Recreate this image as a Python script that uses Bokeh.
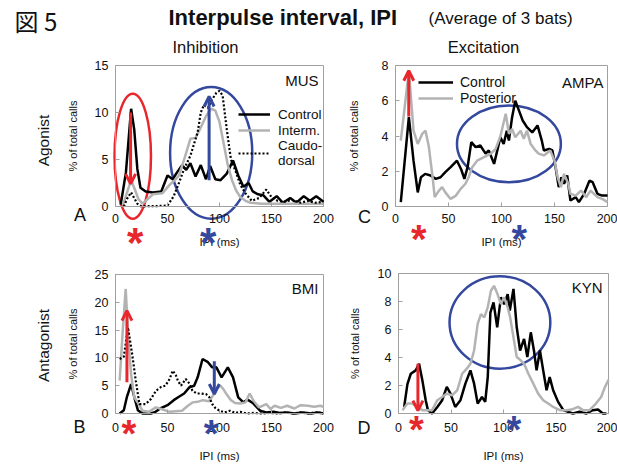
from bokeh.plotting import figure
from bokeh.models import Range1d, FixedTicker, Label, Arrow, OpenHead, Legend, LegendItem
from bokeh.layouts import column, row
from bokeh.embed import file_html
from bokeh.resources import INLINE

# ---------------- data ----------------
X_TICKS = [0, 50, 100, 150, 200]
A_YTICKS = [0, 5, 10, 15]
C_YTICKS = [0, 2, 4, 6, 8]
B_YTICKS = [0, 5, 10, 15, 20, 25]
D_YTICKS = [0, 2, 4, 6, 8, 10]

# Panel A (MUS)
A_CTRL_X = [5, 10, 15, 18, 21, 24, 29, 36, 44, 50, 55, 59, 64, 68, 72, 77, 82, 87, 91, 96, 101, 107, 113, 118, 123, 128, 132, 137, 142, 148, 155, 161, 168, 174, 181, 187, 193, 200]
A_CTRL_Y = [0.2, 3.6, 10.4, 8.2, 4.0, 2.0, 1.6, 1.5, 1.6, 3.3, 2.9, 3.6, 4.4, 3.9, 4.6, 3.2, 4.4, 2.9, 4.3, 2.9, 2.8, 3.5, 4.9, 3.3, 2.1, 2.5, 1.6, 1.3, 1.2, 0.5, 1.1, 0.4, 0.9, 0.4, 1.1, 0.6, 1.1, 0.5]
A_INT_X = [7, 12, 15, 18, 22, 26, 31, 36, 45, 52, 57, 61, 66, 72, 77, 82, 87, 92, 96, 100, 104, 108, 112, 116, 120, 125, 130, 140, 150, 160, 170, 180, 190, 200]
A_INT_Y = [0.1, 1.8, 2.8, 2.0, 0.8, 0.3, 0.8, 1.3, 1.4, 2.3, 2.8, 3.3, 5.0, 7.2, 7.3, 8.4, 9.6, 10.4, 10.2, 9.0, 6.7, 4.4, 2.8, 1.7, 1.0, 0.6, 0.4, 0.3, 0.3, 0.3, 0.3, 0.3, 0.3, 0.3]
A_CD_X = [8, 11, 15, 18, 21, 25, 30, 40, 50, 56, 61, 66, 72, 79, 82, 85, 89, 93, 97, 100, 103, 107, 111, 116, 120, 125, 131, 138, 145, 150, 156, 162, 170, 178, 185, 192, 200]
A_CD_Y = [0.0, 0.8, 1.5, 0.9, 0.3, 0.0, 0.05, 0.05, 0.1, 1.1, 2.5, 4.0, 5.4, 7.9, 10.0, 10.8, 10.5, 11.4, 12.1, 12.3, 11.8, 8.2, 5.0, 3.6, 2.3, 1.4, 0.6, 0.9, 1.8, 1.0, 0.6, 0.5, 0.7, 0.4, 0.6, 0.4, 0.5]

# Panel C (AMPA)
C_CTRL_X = [5, 12.6, 17, 21, 24, 28, 33, 38, 42.5, 47, 52, 58, 62, 65, 68, 71.5, 75.6, 80, 85, 88, 93, 99, 102, 105, 107, 110, 113, 116.5, 120, 124, 129, 134, 138, 140, 145, 148, 151, 154, 156.5, 159, 162, 165, 170, 173, 178, 183, 186, 190.5, 195, 200]
C_CTRL_Y = [0.25, 5.07, 2.6, 0.8, 1.66, 1.85, 1.76, 1.57, 1.66, 1.95, 2.23, 2.6, 2.1, 1.57, 2.23, 3.65, 3.37, 3.46, 3.0, 3.18, 2.42, 3.93, 3.55, 4.3, 3.74, 5.07, 6.0, 5.44, 4.88, 4.5, 4.2, 4.6, 3.74, 3.18, 3.27, 3.18, 2.23, 1.1, 1.66, 1.29, 1.76, 0.34, 0.53, 0.25, 0.72, 1.47, 1.38, 0.72, 0.62, 0.62]
C_POST_X = [5, 12.6, 17, 21, 25, 28.3, 31.5, 35, 37, 41, 44, 47, 52, 57, 61.5, 66, 69, 72.4, 77, 83.5, 90, 94.5, 99, 104, 107, 110, 113, 118, 121, 124, 127.5, 132, 135, 140, 146, 150, 153, 156, 159, 163, 165, 170, 175, 180, 184, 190.5, 195, 200]
C_POST_Y = [3.74, 7.7, 4.3, 3.55, 4.1, 4.3, 3.37, 1.66, 0.53, 0.9, 1.1, 0.8, 0.43, 0.62, 1.0, 1.29, 1.66, 2.23, 2.6, 2.8, 3.0, 3.27, 4.0, 5.26, 4.12, 4.4, 3.93, 4.3, 3.84, 4.3, 3.55, 3.18, 3.0, 2.9, 3.18, 2.6, 1.66, 1.1, 1.85, 1.29, 0.72, 0.62, 0.9, 0.53, 0.9, 0.53, 0.43, 0.25]

# Panel B (BMI)
B_CTRL_X = [4, 8, 11, 15, 18, 21.5, 26, 34, 38.5, 43, 50, 56, 61, 66, 71, 75.6, 79, 83.7, 88.5, 93, 97, 102, 108, 113, 118, 123, 127, 132, 139, 145, 152, 158, 165, 172, 180, 188, 195, 200]
B_CTRL_Y = [0, 0.6, 3.0, 5.3, 3.0, 0.6, 0, 0, 0.3, 0.9, 1.5, 2.4, 3.0, 3.6, 4.7, 5.0, 6.5, 9.8, 9.3, 8.3, 8.3, 6.5, 8.3, 6.5, 2.9, 2.0, 2.5, 1.9, 0.5, 0.2, 0.3, 0.1, 0.2, 0.0, 0.2, 0.0, 0.2, 0.0]
B_INT_X = [4, 7, 9.8, 12.5, 15, 18, 22, 26, 32, 38.8, 44, 52, 58, 64, 69, 74, 79, 84, 90, 94, 98, 101, 104, 107, 111, 115, 120, 125, 129, 133, 138, 145, 149, 153, 159, 165, 172, 178, 185, 191, 197, 200]
B_INT_Y = [5.9, 15.0, 22.4, 13.0, 7.0, 2.9, 1.8, 0.5, 0.3, 1.1, 0.8, 0.3, 0.4, 0.5, 1.3, 2.0, 2.1, 2.4, 2.2, 3.3, 4.6, 5.0, 4.3, 3.4, 2.4, 1.9, 1.8, 2.0, 3.6, 2.2, 1.1, 1.7, 0.8, 1.4, 1.0, 1.4, 0.9, 1.5, 1.4, 1.2, 1.4, 1.2]
B_CD_X = [4, 8, 12, 16, 19.5, 23, 29, 34, 39, 44, 48, 52, 55, 58, 60, 63, 67.5, 71, 74, 78, 82, 87, 90, 93, 96, 100, 105, 110, 115, 120, 126, 133, 140, 148, 156, 163, 170, 178, 185, 192, 200]
B_CD_Y = [9.8, 10.2, 15.5, 10.7, 5.9, 1.7, 1.7, 2.6, 4.1, 4.8, 5.0, 6.2, 7.7, 6.9, 5.9, 5.0, 6.2, 5.4, 4.1, 3.6, 3.6, 3.5, 3.0, 1.7, 1.0, 0.5, 0.2, 0.5, 0.1, 0.3, 0.0, 0.1, 0.0, 0.1, 0.0, 0.2, 0.0, 0.2, 0.0, 0.2, 0.0]

# Panel D (KYN)
D_CTRL_X = [5.4, 8.5, 11.7, 16.4, 19.6, 22.7, 25.9, 28, 32, 37, 41.6, 46, 49.5, 54, 59, 63.7, 68.5, 72, 75.4, 79.5, 82.6, 85, 87.5, 90.5, 94, 97.5, 100.6, 104, 106, 109.5, 112.6, 115.8, 119.6, 122.7, 126, 129, 131.5, 134.7, 137.8, 141, 144, 147.3, 152, 157, 161.5, 166, 172.5, 179, 185, 190, 194.6, 198]
D_CTRL_Y = [0.47, 2.1, 2.84, 3.08, 3.55, 2.37, 0.95, 0.24, 0, 0.47, 0.95, 1.9, 1.42, 0.47, 0.95, 2.13, 3.08, 2.13, 0.71, 1.18, 0.83, 2.6, 7.2, 7.94, 6.16, 8.3, 7.8, 8.53, 7.35, 8.9, 6.16, 4.5, 5.33, 4.03, 5.8, 4.5, 3.08, 4.5, 3.08, 1.66, 2.6, 1.66, 0.83, 0.24, 0.12, 0, 0.12, 0, 0.24, 0.28, 0, 0]
D_POST_X = [3.8, 8.5, 13, 18, 22.7, 27.4, 32, 37, 41.6, 46, 51, 56, 60.6, 65, 68.5, 72, 75.4, 78.5, 81.7, 85, 88, 91, 94.3, 97.5, 100.6, 104, 106.3, 109.5, 112.6, 116.4, 119.6, 123.7, 128.4, 133, 137.8, 142.6, 147.3, 153.6, 160, 164.7, 171, 175.7, 182, 188, 193, 196, 200]
D_POST_Y = [0.24, 0.71, 0.71, 0.47, 0.24, 0.24, 0.24, 0.95, 1.18, 1.42, 1.3, 1.66, 2.84, 3.2, 3.55, 4.5, 6.4, 7.1, 6.87, 7.58, 8.77, 9.12, 8.53, 7.82, 8.3, 7.58, 6.87, 5.45, 4.03, 3.8, 3.55, 2.84, 2.13, 1.42, 0.95, 0.71, 0.47, 0.24, 0.24, 0.28, 0.47, 0.24, 0.24, 0.71, 1.18, 1.78, 2.4]

# annotations (data units): ellipses (cx, cy, w, h), arrows (x, y_start, y_end), asterisk x positions
A_ELLIPSES = [(16.6, 5.35, 35, 13.3, "red"), (92, 5.7, 79, 14.0, "blue")]
C_ELLIPSES = [(107, 3.55, 98, 4.35, "blue")]
D_ELLIPSES = [(96.6, 6.5, 96, 6.6, "blue")]
A_ARROWS = [(14.5, 10.0, 2.4, "red"), (90, 2.8, 11.7, "blue")]
C_ARROWS = [(12.5, 5.1, 7.7, "red")]
B_ARROWS = [(11, 5.6, 18.5, "red"), (95, 9.4, 3.5, "blue")]
D_ARROWS = [(18.5, 3.55, 0.2, "red")]
A_STARS = [(19, "red"), (89, "blue")]
C_STARS = [(22, "red"), (116.7, "blue")]
B_STARS = [(12.8, "red"), (92, "blue")]
D_STARS = [(17, "red"), (110, "blue")]

FONT = "Liberation Sans"
RED = "#e8272c"
BLUE = "#34489e"
GRAY = "#b3b3b3"
AXC = "#a0a0a0"
TXT = "#111111"
COL = {"red": RED, "blue": BLUE}


class Panel:
    """A figure whose frame fills its canvas; the plot area (0..200, 0..ymax)
    sits at the given page-pixel box, axes are pinned at 0."""

    def __init__(self, cx0, cy0, w, h, px0, px1, py0, py1, ymax, yticks,
                 xtick_so, xlab_so, ylab_so):
        self.cx0, self.cy1 = cx0, cy0 + h
        sx = (px1 - px0) / 200.0
        sy = (py0 - py1) / float(ymax)
        xr = Range1d(-(px0 - cx0) / sx, 200 + (cx0 + w - px1) / sx)
        yr = Range1d(-(cy0 + h - py0) / sy, ymax + (py1 - cy0) / sy)
        p = figure(width=w, height=h, min_border=0, x_range=xr, y_range=yr,
                   toolbar_location=None, output_backend="svg")
        p.grid.visible = False
        p.outline_line_color = None
        p.background_fill_color = "white"
        p.border_fill_color = "white"
        # plot-area box (top/right edges)
        p.quad(left=[0], right=[200], bottom=[0], top=[ymax], fill_color=None,
               line_color=AXC, line_width=1)
        p.xaxis.ticker = FixedTicker(ticks=X_TICKS)
        p.yaxis.ticker = FixedTicker(ticks=yticks)
        p.xaxis.fixed_location = 0
        p.yaxis.fixed_location = 0
        p.xaxis.bounds = (0, 200)
        p.yaxis.bounds = (0, ymax)
        for ax in (p.xaxis[0], p.yaxis[0]):
            ax.axis_line_color = AXC
            ax.major_tick_line_color = AXC
            ax.major_tick_in = 4
            ax.major_tick_out = 0
            ax.minor_tick_line_color = None
            ax.major_label_text_font = FONT
            ax.major_label_text_font_size = "12.5px"
            ax.major_label_text_color = TXT
            ax.axis_label_text_font = FONT
            ax.axis_label_text_font_style = "normal"
            ax.axis_label_text_color = TXT
        p.xaxis.major_label_standoff = xtick_so
        p.xaxis.axis_label = "IPI (ms)"
        p.xaxis.axis_label_text_font_size = "11.5px"
        p.xaxis.axis_label_standoff = xlab_so
        p.yaxis.major_label_standoff = 7
        p.yaxis.axis_label = "% of total calls"
        p.yaxis.axis_label_text_font_size = "11px"
        p.yaxis.axis_label_standoff = ylab_so
        self.p = p

    def sx(self, X):
        return X - self.cx0

    def sy(self, Y):
        return self.cy1 - Y

    def text(self, X, Y, t, size, align="left", bold=False, color=TXT,
             font=FONT, angle=0.0):
        self.p.add_layout(Label(x=self.sx(X), y=self.sy(Y), x_units="screen",
                                y_units="screen", text=t, text_font=font,
                                text_font_size=f"{size}px", text_align=align,
                                text_baseline="middle",
                                text_font_style="bold" if bold else "normal",
                                text_color=color, angle=angle))

    def line(self, xs, ys, kind):
        if kind == "ctrl":
            return self.p.line(xs, ys, line_color="black", line_width=2.5)
        if kind == "gray":
            return self.p.line(xs, ys, line_color=GRAY, line_width=2.5)
        return self.p.line(xs, ys, line_color="black", line_width=2.2, line_dash="2 2")

    def decorate(self, ellipses=(), arrows=(), stars=(), star_Y=0, star_size=40):
        p = self.p
        for cx, cy, w, h, c in ellipses:
            p.ellipse(x=[cx], y=[cy], width=[w], height=[h], fill_color=None,
                      line_color=COL[c], line_width=2.5)
        for x, y0, y1, c in arrows:
            p.add_layout(Arrow(end=OpenHead(size=10, line_color=COL[c], line_width=3),
                               x_start=x, y_start=y0, x_end=x, y_end=y1,
                               line_color=COL[c], line_width=3))
        for x, c in stars:
            p.add_layout(Label(x=x, y=self.sy(star_Y) - 0.17 * star_size,
                               x_units="data", y_units="screen", text="*",
                               text_font=FONT, text_font_size=f"{star_size}px",
                               text_font_style="bold", text_align="center",
                               text_baseline="middle", text_color=COL[c]))

    def legend(self, items, X, Ybottom, glyph_w, size, standoff):
        lg = Legend(items=[LegendItem(label=t, renderers=[r]) for t, r in items],
                    location=(self.sx(X), self.sy(Ybottom)), padding=0, margin=0,
                    spacing=0, glyph_width=glyph_w, glyph_height=16,
                    label_height=16, label_standoff=standoff,
                    label_text_font=FONT, label_text_font_size=f"{size}px",
                    label_text_color=TXT, border_line_alpha=0,
                    background_fill_alpha=0)
        self.p.add_layout(lg)


# ---------------- header ----------------
hdr = figure(width=617, height=58, x_range=Range1d(0, 1), y_range=Range1d(0, 1),
             x_axis_location=None, y_axis_location=None, min_border=0,
             toolbar_location=None, output_backend="svg")
hdr.outline_line_color = None
hdr.grid.visible = False


def htext(X, Y, t, size, align="left", bold=False, font=FONT):
    hdr.add_layout(Label(x=X, y=58 - Y, x_units="screen", y_units="screen",
                         text=t, text_font=font, text_font_size=f"{size}px",
                         text_align=align, text_baseline="middle",
                         text_font_style="bold" if bold else "normal",
                         text_color=TXT))


htext(14, 20, "図 5", 24, font="Noto Sans CJK JP")
htext(168, 17, "Interpulse interval, IPI", 22, bold=True)
htext(428, 18, "(Average of 3 bats)", 17)
htext(205, 46, "Inhibition", 16.5, align="center")
htext(483, 46, "Excitation", 16.5, align="center")

# ---------------- panel A ----------------
A = Panel(0, 58, 348, 196, 115, 323, 206, 65, 15, A_YTICKS, 7, 10, 13)
A.decorate(A_ELLIPSES, A_ARROWS, A_STARS, star_Y=235, star_size=42)
rA1 = A.line(A_CTRL_X, A_CTRL_Y, "ctrl")
rA2 = A.line(A_INT_X, A_INT_Y, "gray")
rA3 = A.line(A_CD_X, A_CD_Y, "dot")
A.legend([("Control", rA1), ("Interm.", rA2), ("Caudo-\ndorsal", rA3)], 238, 168, 32, 13.5, 8)
A.text(318, 80, "MUS", 15, align="right")
A.text(79.5, 214, "A", 18, align="center")
A.text(43, 140, "Agonist", 15.5, align="center", angle=1.5708)

# ---------------- panel C ----------------
C = Panel(348, 58, 269, 196, 395, 607, 206, 65, 8, C_YTICKS, 7, 10, 19)
C.decorate(C_ELLIPSES, C_ARROWS, C_STARS, star_Y=232, star_size=40)
rC1 = C.line(C_CTRL_X, C_CTRL_Y, "ctrl")
rC2 = C.line(C_POST_X, C_POST_Y, "gray")
C.legend([("Control", rC1), ("Posterior", rC2)], 418, 106, 35, 14, 7)
C.text(603, 82, "AMPA", 15, align="right")
C.text(364, 216, "C", 18, align="center")

# ---------------- panel B ----------------
B = Panel(0, 254, 348, 210, 115, 323, 413, 274, 25, B_YTICKS, 9, 15, 13)
B.decorate((), B_ARROWS, B_STARS, star_Y=427, star_size=38)
B.line(B_CTRL_X, B_CTRL_Y, "ctrl")
B.line(B_INT_X, B_INT_Y, "gray")
B.line(B_CD_X, B_CD_Y, "dot")
B.text(318, 288, "BMI", 15, align="right")
B.text(79, 426.5, "B", 18, align="center")
B.text(43, 345, "Antagonist", 15.5, align="center", angle=1.5708)

# ---------------- panel D ----------------
D = Panel(348, 254, 269, 210, 398, 608, 413, 273, 10, D_YTICKS, 9, 15, 14)
D.decorate(D_ELLIPSES, D_ARROWS, D_STARS, star_Y=423, star_size=38)
D.line(D_CTRL_X, D_CTRL_Y, "ctrl")
D.line(D_POST_X, D_POST_Y, "gray")
D.text(602, 287, "KYN", 15, align="right")
D.text(363.5, 427, "D", 18, align="center")

layout = column(hdr, row(A.p, C.p), row(B.p, D.p))
open("out.html", "w").write(file_html(layout, INLINE))
